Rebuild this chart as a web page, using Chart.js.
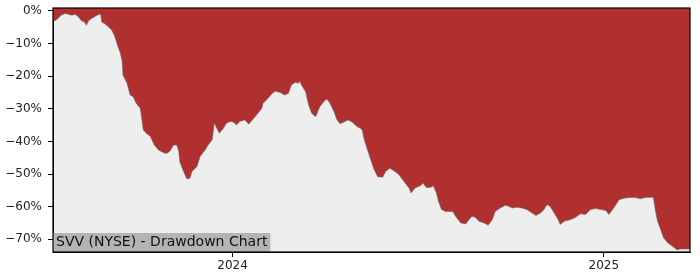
<!DOCTYPE html>
<html>
<head>
<meta charset="utf-8">
<script src="https://cdn.jsdelivr.net/npm/chart.js@4/dist/chart.umd.min.js"></script>
<style>
html,body{margin:0;padding:0;background:#fff;}
#wrap{width:700px;height:280px;position:relative;}
</style>
</head>
<body>
<div id="wrap"><canvas id="c" width="700" height="280"></canvas></div>
<script>
const title = "SVV (NYSE) - Drawdown Chart";
const dates = [
"2023-07-08","2023-07-10","2023-07-13","2023-07-16","2023-07-20","2023-07-23","2023-07-26","2023-07-30",
"2023-08-02","2023-08-05","2023-08-08","2023-08-10","2023-08-12","2023-08-15","2023-08-18","2023-08-22",
"2023-08-24","2023-08-25","2023-08-28","2023-08-31","2023-09-04","2023-09-07","2023-09-10","2023-09-12",
"2023-09-14","2023-09-15","2023-09-19","2023-09-22","2023-09-25","2023-09-28","2023-10-02","2023-10-03",
"2023-10-05","2023-10-08","2023-10-12","2023-10-16","2023-10-20","2023-10-25","2023-10-28","2023-10-31",
"2023-11-04","2023-11-07","2023-11-09","2023-11-10","2023-11-13","2023-11-17","2023-11-20","2023-11-22",
"2023-11-27","2023-11-30","2023-12-05","2023-12-08","2023-12-12","2023-12-14","2023-12-19","2023-12-23",
"2023-12-26","2023-12-30","2024-01-02","2024-01-05","2024-01-08","2024-01-13","2024-01-17","2024-01-22",
"2024-01-26","2024-01-30","2024-01-31","2024-02-02","2024-02-05","2024-02-09","2024-02-12","2024-02-17",
"2024-02-21","2024-02-25","2024-02-28","2024-03-03","2024-03-06","2024-03-07","2024-03-09","2024-03-13",
"2024-03-16","2024-03-19","2024-03-23","2024-03-27","2024-03-31","2024-04-03","2024-04-06","2024-04-10",
"2024-04-13","2024-04-16","2024-04-21","2024-04-24","2024-04-28","2024-05-03","2024-05-06","2024-05-08",
"2024-05-09","2024-05-12","2024-05-16","2024-05-19","2024-05-23","2024-05-28","2024-05-31","2024-06-04",
"2024-06-09","2024-06-13","2024-06-18","2024-06-23","2024-06-25","2024-06-29","2024-07-04","2024-07-07",
"2024-07-10","2024-07-14","2024-07-17","2024-07-20","2024-07-22","2024-07-25","2024-07-29","2024-08-05",
"2024-08-08","2024-08-13","2024-08-18","2024-08-21","2024-08-24","2024-08-27","2024-08-31","2024-09-05",
"2024-09-09","2024-09-13","2024-09-16","2024-09-21","2024-09-26","2024-09-29","2024-10-03","2024-10-07",
"2024-10-12","2024-10-17","2024-10-22","2024-10-26","2024-10-31","2024-11-03","2024-11-06","2024-11-09",
"2024-11-13","2024-11-17","2024-11-19","2024-11-23","2024-11-29","2024-12-04","2024-12-09","2024-12-14",
"2024-12-19","2024-12-24","2024-12-29","2025-01-03","2025-01-06","2025-01-09","2025-01-13","2025-01-16",
"2025-01-21","2025-01-27","2025-02-01","2025-02-06","2025-02-11","2025-02-18","2025-02-19","2025-02-21",
"2025-02-23","2025-02-26","2025-03-01","2025-03-05","2025-03-10","2025-03-14","2025-03-18","2025-03-23",
"2025-03-27"
];
const drawdown = [
-2.8,-3.0,-2.3,-1.3,-0.8,-1.0,-1.3,-1.1,
-1.8,-3.0,-3.4,-4.4,-3.0,-2.3,-1.8,-1.1,
-1.0,-3.4,-3.9,-4.7,-5.9,-7.9,-11.0,-12.5,
-15.1,-19.7,-22.2,-25.8,-26.3,-28.3,-29.8,-31.9,
-36.5,-37.5,-38.5,-41.2,-42.6,-43.5,-43.7,-43.1,
-41.1,-41.1,-43.1,-46.2,-48.7,-51.5,-51.3,-49.2,
-47.7,-44.6,-42.6,-41.1,-39.5,-34.4,-37.5,-36.0,
-34.4,-33.9,-34.1,-35.0,-33.9,-33.4,-34.7,-32.9,
-31.4,-29.8,-28.3,-27.8,-26.8,-25.3,-24.6,-25.0,
-25.8,-25.3,-22.7,-21.9,-22.2,-21.5,-22.7,-24.8,
-28.8,-31.4,-32.4,-29.4,-27.8,-27.0,-28.3,-30.9,
-33.4,-34.6,-33.9,-33.4,-34.1,-35.5,-36.0,-36.5,
-38.5,-41.6,-45.4,-48.2,-50.8,-51.0,-49.2,-48.2,
-49.2,-50.2,-52.3,-54.3,-55.8,-54.3,-53.6,-52.8,
-54.1,-54.1,-53.6,-55.8,-58.4,-60.9,-61.5,-61.5,
-63.0,-65.0,-65.3,-64.0,-63.0,-63.2,-64.5,-65.0,
-65.7,-64.0,-61.5,-60.4,-59.6,-59.9,-60.4,-60.2,
-60.4,-60.9,-61.9,-62.7,-61.9,-60.9,-59.4,-59.9,
-61.9,-64.0,-65.5,-64.5,-64.0,-63.3,-62.2,-62.4,
-60.9,-60.6,-60.9,-61.2,-62.4,-61.2,-59.4,-57.9,
-57.4,-57.2,-57.2,-57.6,-57.2,-57.1,-57.4,-61.5,
-64.5,-67.0,-69.6,-71.1,-72.2,-73.2,-73.0,-73.0,
-73.0
];
const yTicks = [0,-10,-20,-30,-40,-50,-60,-70];
const xTickDates = ["2024-01-01","2025-01-01"];
const xTickLabels = ["2024","2025"];
const yRange = [-73.9, 0.9];

const DAY = 86400000;
const toDay = s => Date.parse(s + "T00:00:00Z") / DAY;
const points = dates.map((d,i) => ({x: toDay(d), y: drawdown[i]}));
const xTickVals = xTickDates.map(toDay);

const FONT = "'DejaVu Sans', sans-serif";

const frame = {
  id: 'frame',
  beforeDraw(chart) {
    const {ctx, chartArea: a} = chart;
    ctx.save();
    ctx.fillStyle = '#eeeeee';
    ctx.fillRect(a.left, a.top, a.right - a.left, a.bottom - a.top);
    ctx.restore();
  },
  afterDraw(chart) {
    const {ctx, chartArea: a} = chart;
    ctx.save();
    ctx.font = "14px " + FONT;
    const w = ctx.measureText(title).width;
    ctx.fillStyle = '#b4b4b4';
    ctx.fillRect(a.left, a.bottom - 19, w + 6, 19);
    ctx.fillStyle = '#111';
    ctx.textBaseline = 'middle';
    ctx.textAlign = 'left';
    ctx.fillText(title, a.left + 3, a.bottom - 9.5);
    ctx.strokeStyle = '#000';
    ctx.lineWidth = 1.2;
    ctx.strokeRect(a.left, a.top, a.right - a.left, a.bottom - a.top);
    ctx.restore();
  }
};

new Chart(document.getElementById('c'), {
  type: 'line',
  data: {
    datasets: [{
      data: points,
      fill: 'end',
      backgroundColor: '#b03030',
      borderColor: 'rgba(110,110,110,0.7)',
      borderWidth: 0.8,
      pointRadius: 0,
      tension: 0
    }]
  },
  options: {
    responsive: false,
    animation: false,
    devicePixelRatio: 1,
    layout: {padding: {left: 0, right: 10, top: 8, bottom: 0}},
    plugins: {legend: {display: false}, tooltip: {enabled: false}},
    scales: {
      x: {
        type: 'linear',
        min: points[0].x,
        max: points[points.length - 1].x,
        afterFit: s => { s.height = 28; s.paddingLeft = 0; s.paddingRight = 0; },
        afterBuildTicks: s => { s.ticks = xTickVals.map(v => ({value: v})); },
        ticks: {
          callback: (v) => { const i = xTickVals.indexOf(v); return i >= 0 ? xTickLabels[i] : ''; },
          color: '#222', font: {family: FONT, size: 12}, padding: 2, maxRotation: 0, autoSkip: false
        },
        grid: {drawOnChartArea: false, drawTicks: true, tickLength: 5, color: '#000'},
        border: {display: true, color: '#000', width: 1}
      },
      y: {
        min: yRange[0],
        max: yRange[1],
        afterFit: s => { s.width = 53; s.paddingTop = 0; s.paddingBottom = 0; },
        afterBuildTicks: s => { s.ticks = yTicks.map(v => ({value: v})); },
        ticks: {
          callback: v => (v < 0 ? '\u2212' : '') + Math.abs(v) + '%',
          color: '#222', font: {family: FONT, size: 12}, padding: 6, autoSkip: false
        },
        grid: {drawOnChartArea: false, drawTicks: true, tickLength: 5, color: '#000'},
        border: {display: true, color: '#000', width: 1}
      }
    }
  },
  plugins: [frame]
});
</script>
</body>
</html>
